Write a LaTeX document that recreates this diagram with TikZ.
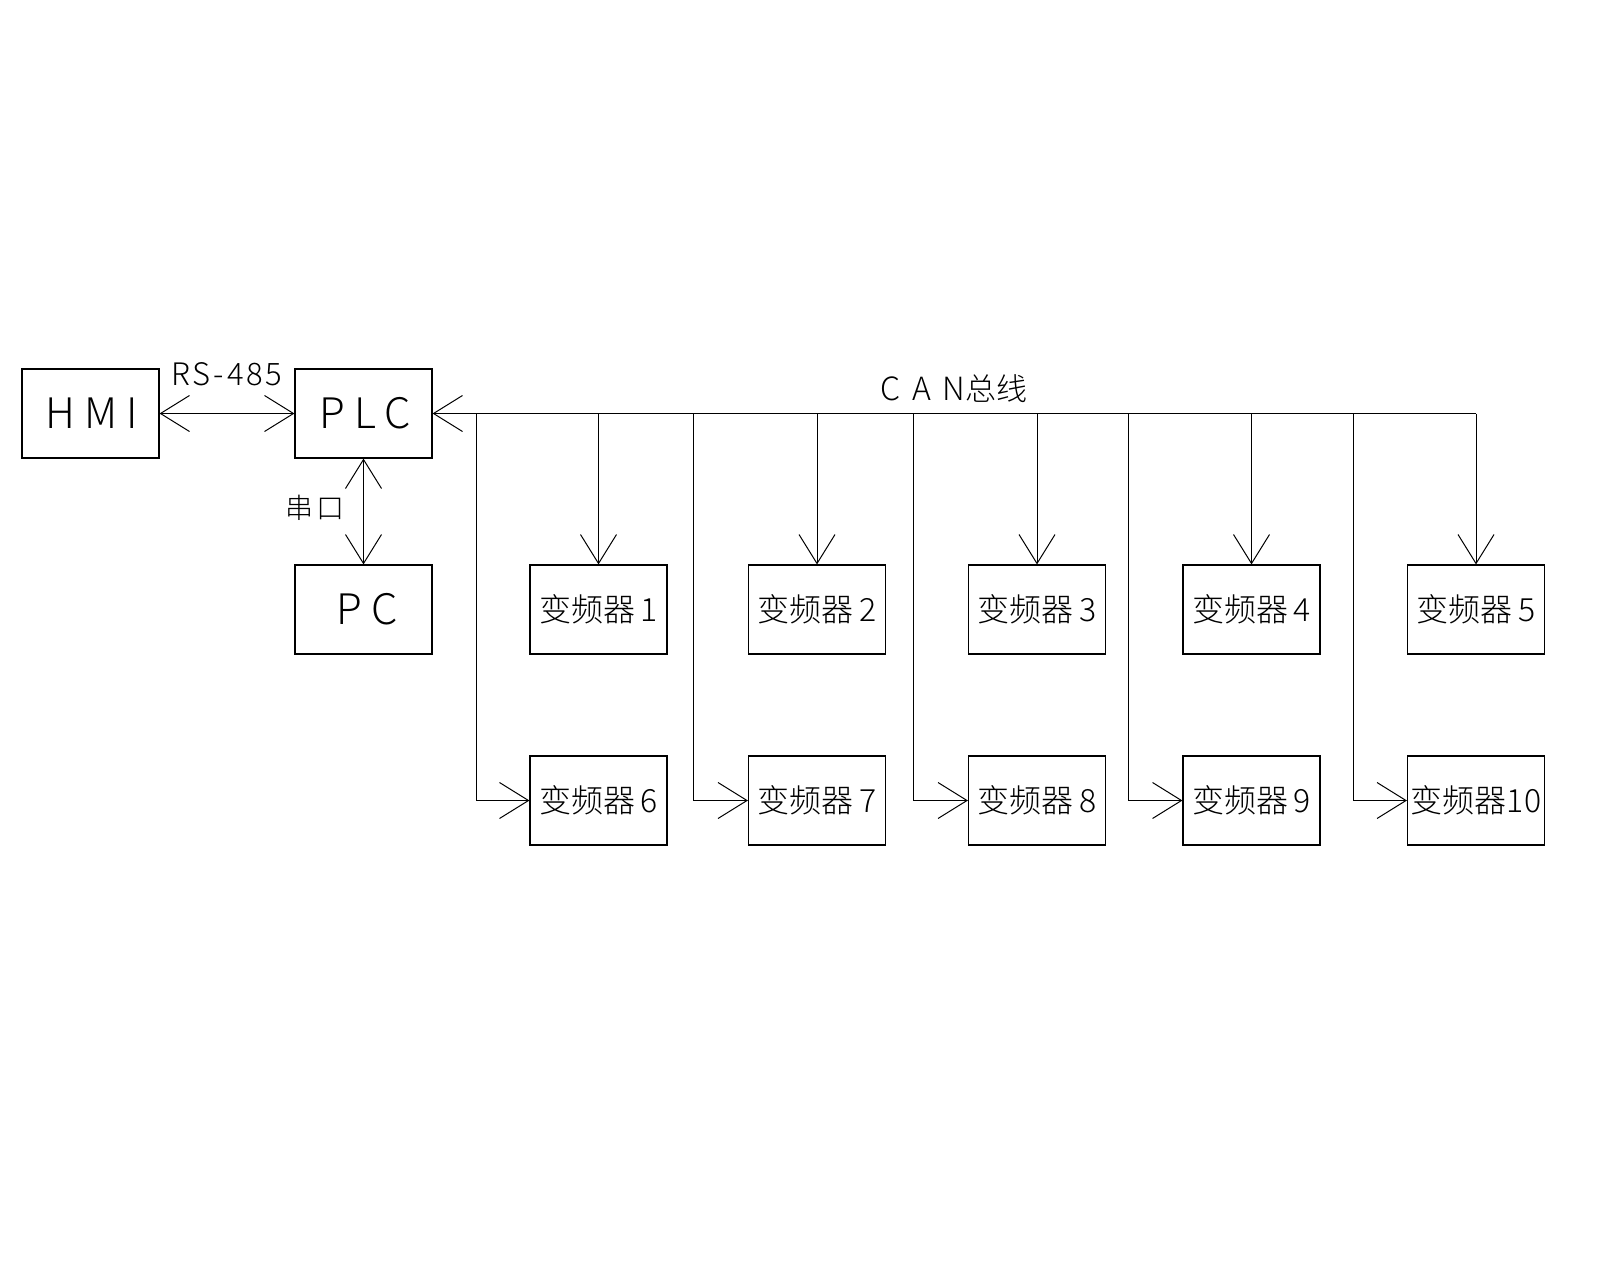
\documentclass[tikz,border=0pt]{standalone}
\usepackage{fontspec}
\setmainfont{Liberation Sans}
\newfontfamily\cjk{Noto Sans CJK SC}[UprightFont={* Light}]
\newfontfamily\lat{Noto Sans CJK SC}[UprightFont={* Light}]
\usetikzlibrary{arrows.meta}
\begin{document}
\begin{tikzpicture}[x=1pt,y=-1pt,
  box/.style={draw, line width=1.1pt, minimum width=137pt, minimum height=89pt, inner sep=0pt},
  big/.style={box, font=\lat\fontsize{42pt}{46pt}\selectfont\addfontfeatures{LetterSpace=22}},
  vf/.style={box, font=\cjk\fontsize{32pt}{36pt}\selectfont},
  conn/.style={line width=1pt},
  tip/.style={-{Straight Barb[length=29pt,width=36pt]}},
  dtip/.style={{Straight Barb[length=29pt,width=36pt]}-{Straight Barb[length=29pt,width=36pt]}}
]
\fill[white] (0,0) rectangle (1600,1280);
\node[big] (HMI) at (90.5,413.5) {\hspace*{2pt}HMI};
\node[big] (PLC) at (363.5,413.5) {\hspace*{4pt}PLC};
\node[big] (PC) at (363.5,609.5) {\hspace*{7pt}PC};
\node[vf] (VF1) at (598.5,609.5) {变频器\,1};
\node[vf] (VF2) at (817,609.5) {变频器\,2};
\node[vf] (VF3) at (1037,609.5) {变频器\,3};
\node[vf] (VF4) at (1251.5,609.5) {变频器\,4};
\node[vf] (VF5) at (1476,609.5) {变频器\,5};
\node[vf] (VF6) at (598.5,800.5) {变频器\,6};
\node[vf] (VF7) at (817,800.5) {变频器\,7};
\node[vf] (VF8) at (1037,800.5) {变频器\,8};
\node[vf] (VF9) at (1251.5,800.5) {变频器\,9};
\node[vf] (VF10) at (1476,800.5) {变频器10};
\node[font=\lat\fontsize{31pt}{34pt}\selectfont\addfontfeatures{LetterSpace=9}] (rs) at (227,374) {RS-485};
\node[font=\lat\fontsize{32pt}{36pt}\selectfont] (can) at (954,389) {{\addfontfeatures{LetterSpace=36}CAN}{\cjk\fontsize{31pt}{34pt}\selectfont 总线}};
\node[font=\cjk\fontsize{28pt}{32pt}\selectfont] (ck) at (315,508) {串\hspace{4pt}口};
\draw[conn,dtip] (HMI) -- (PLC);
\draw[conn,dtip] (PLC) -- (PC);
\coordinate (busend) at (1476,413.5);
\draw[conn,tip] (busend) -- (PLC.east);
\foreach \n in {1,2,3,4,5} {\draw[conn,tip] (VF\n.north |- busend) -- (VF\n.north);}
\coordinate (b6) at (476,413.5);
\coordinate (b7) at (693,413.5);
\coordinate (b8) at (913,413.5);
\coordinate (b9) at (1128,413.5);
\coordinate (b10) at (1353,413.5);
\foreach \n in {6,7,8,9,10} {\draw[conn,tip] (b\n) |- (VF\n.west);}
\end{tikzpicture}
\end{document}
